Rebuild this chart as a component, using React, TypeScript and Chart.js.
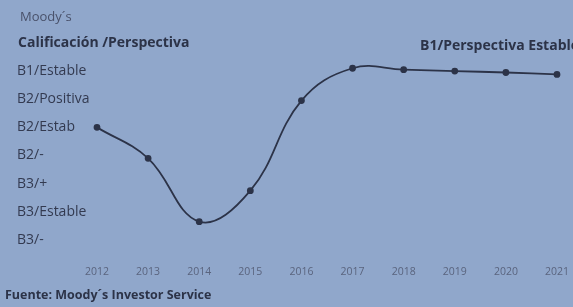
import React, { useEffect, useRef } from "react";
import { Chart, registerables } from "chart.js";

Chart.register(...registerables);

const years = ["2012", "2013", "2014", "2015", "2016", "2017", "2018", "2019", "2020", "2021"];
const ratingValues = [5.0, 3.9, 1.65, 2.75, 5.95, 7.1, 7.05, 7.0, 6.95, 6.88];
const ratingLabels = ["B3/-", "B3/Estable", "B3/+", "B2/-", "B2/Estab", "B2/Positiva", "B1/Estable"];

const BG = "#90a7cb";
const INK = "#2c3348";

export default function App() {
  const ref = useRef<HTMLCanvasElement | null>(null);

  useEffect(() => {
    document.body.style.margin = "0";
    const ctx = ref.current!;
    const chart = new Chart(ctx, {
      type: "line",
      data: {
        labels: years,
        datasets: [
          {
            data: ratingValues,
            borderColor: INK,
            backgroundColor: INK,
            borderWidth: 1.8,
            pointRadius: 2.5,
            pointBackgroundColor: INK,
            tension: 0.4,
            fill: false,
          },
        ],
      },
      options: {
        animation: false,
        responsive: false,
        maintainAspectRatio: false,
        layout: { padding: { left: 17, right: 16, top: 57, bottom: 0 } },
        plugins: { legend: { display: false }, tooltip: { enabled: false } },
        scales: {
          x: {
            offset: false,
            grid: { display: false },
            border: { display: false },
            ticks: { color: "#5a647e", font: { size: 10.5, family: "Open Sans" }, padding: 4, maxRotation: 0 },
            afterFit: (s: any) => { s.height = 53; },
          },
          y: {
            min: 0.5,
            max: 7.5,
            grid: { display: false },
            border: { display: false },
            afterBuildTicks: (s: any) => {
              s.ticks = ratingLabels.map((_, i) => ({ value: i + 1 }));
            },
            ticks: {
              crossAlign: "far",
              color: "#333a50",
              font: { size: 14, family: "Open Sans", weight: "500" },
              callback: (v: any) => ratingLabels[Math.round(Number(v)) - 1] ?? "",
            },
            afterFit: (s: any) => { s.width = 80; },
          },
        },
      },
    });
    return () => chart.destroy();
  }, []);

  return (
    <div style={{ position: "relative", width: 573, height: 307, background: BG, overflow: "hidden", fontFamily: "Open Sans", color: INK, lineHeight: 1 }}>
      <canvas ref={ref} width={573} height={307} style={{ position: "absolute", left: 0, top: 0 }} />
      <div style={{ position: "absolute", left: 20, top: 10, fontSize: 13, fontWeight: 500, color: "#49516a", whiteSpace: "nowrap" }}>Moody´s</div>
      <div style={{ position: "absolute", left: 18, top: 35, fontSize: 14, fontWeight: 700, whiteSpace: "nowrap" }}>Calificación /Perspectiva</div>
      <div style={{ position: "absolute", left: 420, top: 38, fontSize: 14, fontWeight: 700, whiteSpace: "nowrap" }}>B1/Perspectiva Estable</div>
      <div style={{ position: "absolute", left: 5, top: 289, fontSize: 12.5, fontWeight: 700, whiteSpace: "nowrap" }}>Fuente: Moody´s Investor Service</div>
    </div>
  );
}
